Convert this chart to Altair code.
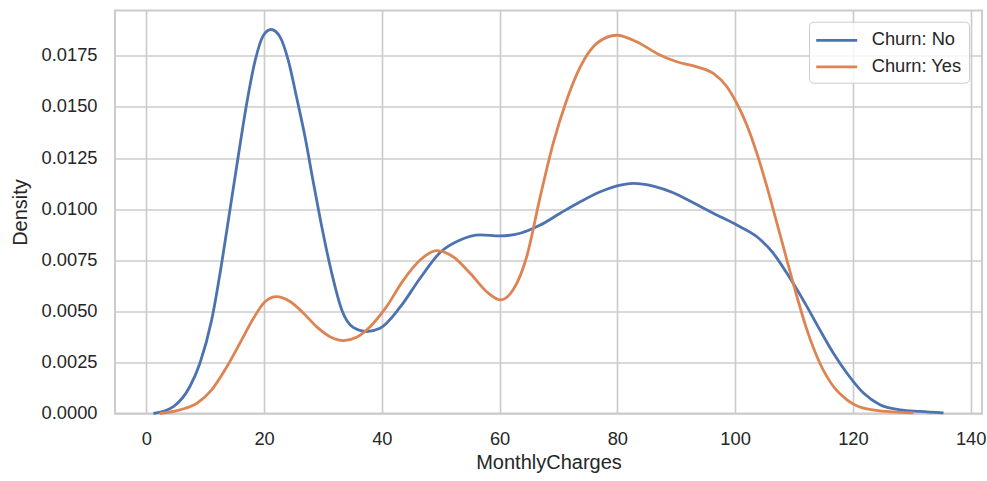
import altair as alt
import pandas as pd

# Kernel density of MonthlyCharges, split by churn status
charges_no = [1.2, 4.6, 7.4, 9.1, 11.1, 12.8, 14.2, 15.6, 17.05, 18.5, 19.9, 21.2, 22.7,
              24.1, 25.5, 26.95, 28.4, 29.8, 31.5, 33.2, 35.2, 37.4, 39.7, 43.1, 46.5,
              49.9, 53.3, 56.7, 60.1, 63.5, 66.9, 70.3, 73.7, 77.1, 80.5, 82.7, 86.1,
              89.5, 92.9, 96.3, 100.3, 103.7, 106.5, 108.8, 110.2, 112.2, 114.4, 116.7,
              119.0, 121.8, 124.6, 128.0, 131.4, 135.4]
density_no = [0.0000, 0.00034, 0.00132, 0.00246, 0.00458, 0.00735, 0.00996, 0.01256,
              0.01517, 0.01729, 0.01851, 0.01879, 0.01843, 0.01729, 0.01550, 0.01354,
              0.01126, 0.00914, 0.00686, 0.00507, 0.00420, 0.00401, 0.00417, 0.00520,
              0.00662, 0.00788, 0.00849, 0.00874, 0.00869, 0.00882, 0.00922, 0.00980,
              0.01036, 0.01085, 0.01118, 0.01126, 0.01113, 0.01080, 0.01031, 0.00980,
              0.00922, 0.00865, 0.00784, 0.00686, 0.00621, 0.00523, 0.00409, 0.00295,
              0.00197, 0.00100, 0.00043, 0.00018, 0.00010, 0.00003]

charges_yes = [2.3, 5.7, 8.6, 11.1, 13.7, 15.9, 18.2, 20.2, 22.1, 24.4, 26.7, 28.9, 31.2,
               33.5, 35.7, 38.0, 40.8, 43.6, 46.5, 49.3, 52.1, 55.0, 57.8, 60.1, 62.3,
               64.6, 66.9, 69.1, 71.4, 73.7, 76.5, 79.9, 83.3, 86.7, 90.1, 93.5, 96.3,
               98.6, 100.3, 102.0, 103.7, 105.4, 107.1, 108.8, 110.5, 112.2, 114.4, 116.7,
               119.0, 121.8, 125.7, 130.3]
density_yes = [0.0000, 0.00018, 0.00050, 0.00116, 0.00230, 0.00344, 0.00466, 0.00548,
               0.00572, 0.00548, 0.00491, 0.00425, 0.00376, 0.00357, 0.00373, 0.00425,
               0.00523, 0.00650, 0.00751, 0.00797, 0.00767, 0.00686, 0.00596, 0.00556,
               0.00605, 0.00767, 0.01061, 0.01322, 0.01534, 0.01696, 0.01811, 0.01851,
               0.01819, 0.01762, 0.01721, 0.01696, 0.01664, 0.01599, 0.01517, 0.01411,
               0.01273, 0.01110, 0.00931, 0.00751, 0.00572, 0.00409, 0.00246, 0.00132,
               0.00067, 0.00026, 0.00010, 0.00003]

series_names = ["Churn: No", "Churn: Yes"]
series_colors = ["#4c72b0", "#dd8452"]
x_ticks = [0, 20, 40, 60, 80, 100, 120, 140]
y_ticks = [0.0, 0.0025, 0.005, 0.0075, 0.01, 0.0125, 0.015, 0.0175]

df = pd.concat([
    pd.DataFrame({"MonthlyCharges": charges_no, "Density": density_no, "Churn": series_names[0]}),
    pd.DataFrame({"MonthlyCharges": charges_yes, "Density": density_yes, "Churn": series_names[1]}),
], ignore_index=True)

FONT = "Liberation Sans"
TEXT = "#262626"
GRID = "#cccccc"

chart = alt.Chart(df).mark_line(strokeWidth=2.8, interpolate="monotone").encode(
    x=alt.X("MonthlyCharges:Q",
            scale=alt.Scale(domain=[-5.32, 141.93], nice=False, zero=False),
            axis=alt.Axis(values=x_ticks, format="d", title="MonthlyCharges",
                          labelPadding=17, titleY=54.5, titleBaseline="alphabetic")),
    y=alt.Y("Density:Q",
            scale=alt.Scale(domain=[0, 0.01972], nice=False),
            axis=alt.Axis(values=y_ticks, format=".4f", title="Density",
                          labelPadding=18, titleX=-89, titleY=201.5, titleAngle=270,
                          titleBaseline="alphabetic", titleAlign="center")),
    color=alt.Color("Churn:N",
                    scale=alt.Scale(domain=series_names, range=series_colors),
                    legend=alt.Legend(title=None, orient="none", legendX=694, legendY=11.2,
                                      symbolType="M-2,0H2", symbolSize=420,
                                      symbolStrokeWidth=2.8, symbolOffset=9,
                                      labelOffset=23, rowPadding=5.5,
                                      labelFontSize=18.3, labelFont=FONT, labelColor=TEXT,
                                      padding=6.7, fillColor="rgba(255,255,255,0.8)",
                                      strokeColor=GRID, cornerRadius=4)),
    detail="Churn:N",
).properties(
    width=867,
    height=403,
    autosize=alt.AutoSizeParams(type="none"),
    padding={"left": 115, "top": 10.5, "right": 5, "bottom": 67.5},
    background="white",
).configure_view(
    stroke=GRID, strokeWidth=2
).configure_axis(
    grid=True, gridColor=GRID, gridWidth=1.67, ticks=False, tickSize=0, domain=False,
    labelFont=FONT, labelFontSize=18.3, labelColor=TEXT,
    titleFont=FONT, titleFontSize=20, titleColor=TEXT, titleFontWeight="normal",
)

chart.save("out.html", embed_options={"renderer": "svg", "actions": False})
